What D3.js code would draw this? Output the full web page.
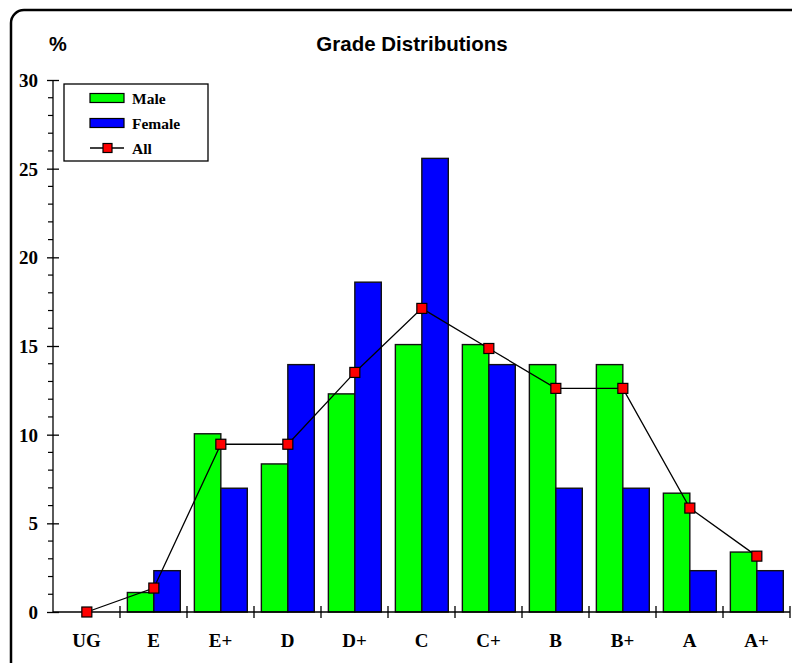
<!DOCTYPE html>
<html><head><meta charset="utf-8">
<script src="https://cdn.jsdelivr.net/npm/d3@7"></script>
<style>html,body{margin:0;padding:0;background:#fff;}svg{display:block;}</style>
</head><body>
<script>
const categories = ["UG","E","E+","D","D+","C","C+","B","B+","A","A+"];
const maleValues = [0, 1.1, 10.05, 8.35, 12.3, 15.08, 15.08, 13.95, 13.95, 6.7, 3.38];
const femaleValues = [0, 2.33, 6.98, 13.95, 18.6, 25.58, 13.95, 6.98, 6.98, 2.33, 2.33];
const allValues = [0, 1.35, 9.46, 9.46, 13.51, 17.12, 14.86, 12.61, 12.61, 5.86, 3.15];
const yTicks = [0,5,10,15,20,25,30];
const seriesNames = ["Male","Female","All"];
const colors = {Male:"#00ff00", Female:"#0000ff", All:"#ff0000"};

const W=792,H=663;
const svg=d3.select("body").append("svg").attr("width",W).attr("height",H);

// frame
svg.append("rect").attr("x",11).attr("y",10).attr("width",820).attr("height",670)
  .attr("rx",13).attr("fill","none").attr("stroke","#000").attr("stroke-width",2.5);

const x = d3.scaleBand().domain(categories).range([53,790]).padding(0);
const y = d3.scaleLinear().domain([0,30]).range([612,80]);
const bw = x.bandwidth();
const barW = bw*0.395, off = bw*0.11;

// bars
const g = svg.append("g");
g.selectAll(".male").data(categories).enter().append("rect")
  .attr("x",d=>x(d)+off).attr("width",barW)
  .attr("y",(d,i)=>y(maleValues[i])).attr("height",(d,i)=>y(0)-y(maleValues[i]))
  .attr("fill",colors.Male).attr("stroke","#111").attr("stroke-width",1.4)
  .style("display",(d,i)=>maleValues[i]>0?null:"none");
g.selectAll(".female").data(categories).enter().append("rect")
  .attr("x",d=>x(d)+off+barW).attr("width",barW)
  .attr("y",(d,i)=>y(femaleValues[i])).attr("height",(d,i)=>y(0)-y(femaleValues[i]))
  .attr("fill",colors.Female).attr("stroke","#111").attr("stroke-width",1.4)
  .style("display",(d,i)=>femaleValues[i]>0?null:"none");

// y axis
const yAxis = d3.axisLeft(y).tickValues(yTicks).tickSize(6).tickFormat(d3.format("d"));
const ya = svg.append("g").attr("transform","translate(53,0)").call(yAxis);
ya.select(".domain").remove();
ya.append("line").attr("x1",0).attr("x2",0).attr("y1",y(30)).attr("y2",y(0)).attr("stroke","#000").attr("stroke-width",1.3);
ya.selectAll(".tick line").attr("x1",6).attr("x2",-6).attr("stroke","#000").attr("stroke-width",1.3);
ya.selectAll(".tick text").attr("x",-15).attr("dy","0.34em")
  .style("font-family","'Liberation Serif','Times New Roman',serif").style("font-weight","bold").style("font-size","19px").attr("fill","#000");
const minor = d3.range(0,31).filter(v=>v%5!==0);
ya.selectAll(".minor").data(minor).enter().append("line")
  .attr("x1",-5).attr("x2",0).attr("y1",d=>y(d)).attr("y2",d=>y(d)).attr("stroke","#000").attr("stroke-width",1.2);

// x axis
const xa = svg.append("g").attr("transform","translate(0,612)");
xa.append("line").attr("x1",53).attr("x2",790).attr("y1",0).attr("y2",0).attr("stroke","#000").attr("stroke-width",1.3);
const bounds = categories.map(c=>x(c)).concat([x(categories[categories.length-1])+bw]).slice(1);
xa.selectAll(".tk").data(bounds).enter().append("line")
  .attr("x1",d=>d).attr("x2",d=>d).attr("y1",-6).attr("y2",6).attr("stroke","#000").attr("stroke-width",1.3);
xa.selectAll(".lbl").data(categories).enter().append("text")
  .attr("x",d=>x(d)+bw/2).attr("y",35).attr("text-anchor","middle")
  .style("font-family","'Liberation Serif','Times New Roman',serif").style("font-weight","bold").style("font-size","19px")
  .text(d=>d);

// All line
const cx = d=>x(d)+off+barW;
const line = d3.line().x((d,i)=>cx(categories[i])).y(d=>y(d));
svg.append("path").datum(allValues).attr("d",line).attr("fill","none").attr("stroke","#000").attr("stroke-width",1.3);
svg.selectAll(".mk").data(allValues).enter().append("rect")
  .attr("x",(d,i)=>cx(categories[i])-5).attr("y",d=>y(d)-5).attr("width",10).attr("height",10)
  .attr("fill",colors.All).attr("stroke","#000").attr("stroke-width",1.2);

// titles
svg.append("text").attr("x",412).attr("y",51).attr("text-anchor","middle")
  .style("font-family","'Liberation Sans',Arial,sans-serif").style("font-weight","bold").style("font-size","20.5px")
  .text("Grade Distributions");
svg.append("text").attr("x",49).attr("y",51)
  .style("font-family","'Liberation Sans',Arial,sans-serif").style("font-weight","bold").style("font-size","20px")
  .text("%");

// legend
const lg = svg.append("g");
lg.append("rect").attr("x",64).attr("y",84).attr("width",144).attr("height",77).attr("fill","#fff").attr("stroke","#000").attr("stroke-width",1.3);
const ly = [98,123,148];
seriesNames.forEach((s,i)=>{
  if(s!=="All"){
    lg.append("rect").attr("x",90).attr("y",ly[i]-4.5).attr("width",34).attr("height",9)
      .attr("fill",colors[s]).attr("stroke","#000").attr("stroke-width",1.2);
  } else {
    lg.append("line").attr("x1",90).attr("x2",124).attr("y1",ly[i]).attr("y2",ly[i]).attr("stroke","#000").attr("stroke-width",1.3);
    lg.append("rect").attr("x",103).attr("y",ly[i]-4.5).attr("width",9).attr("height",9)
      .attr("fill",colors.All).attr("stroke","#000").attr("stroke-width",1.2);
  }
  lg.append("text").attr("x",132).attr("y",ly[i]+5.5)
    .style("font-family","'Liberation Serif','Times New Roman',serif").style("font-weight","bold").style("font-size","15.5px")
    .text(s);
});
</script>
</body></html>
